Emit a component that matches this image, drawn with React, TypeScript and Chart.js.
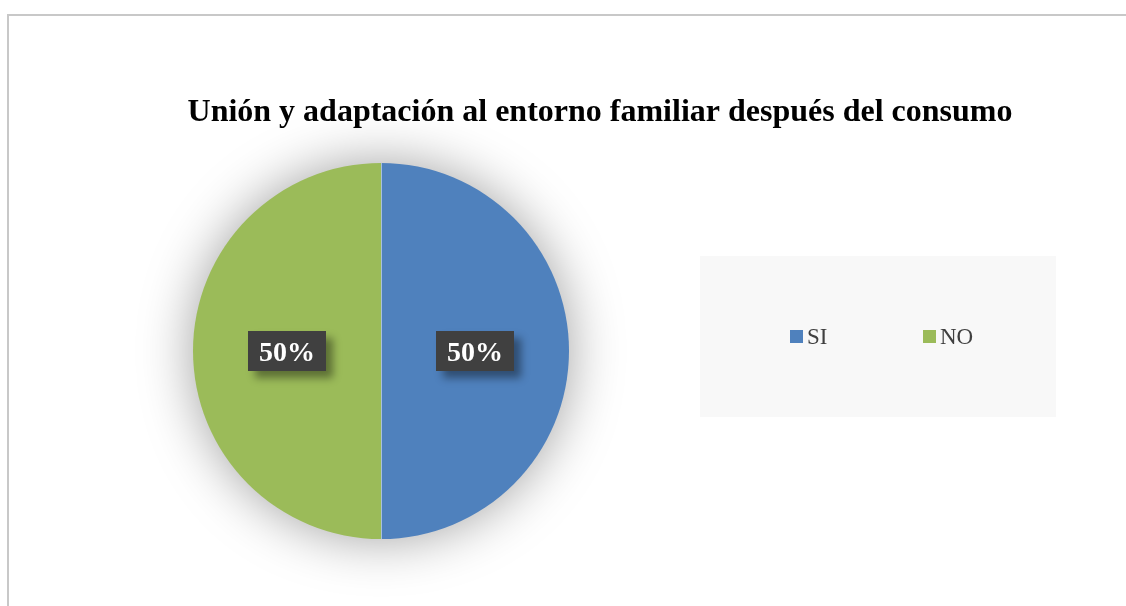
import React, { useEffect, useRef } from "react";
import { Chart, registerables } from "chart.js";

Chart.register(...registerables);

const titleText = "Unión y adaptación al entorno familiar después del consumo";
const categories = ["SI", "NO"];
const values = [50, 50];
const percentLabels = ["50%", "50%"];
const colors = ["#4F81BD", "#9BBB59"];

const W = 1126;
const H = 606;

const decorPlugin = {
  id: "decor",
  beforeDatasetsDraw(chart: any) {
    const ctx = chart.ctx;
    const arc = chart.getDatasetMeta(0).data[0];
    if (!arc) return;
    ctx.save();
    ctx.shadowColor = "rgba(0,0,0,0.4)";
    ctx.shadowBlur = 55;
    ctx.shadowOffsetX = 0;
    ctx.shadowOffsetY = 0;
    ctx.fillStyle = "#ffffff";
    ctx.beginPath();
    ctx.arc(arc.x, arc.y, arc.outerRadius - 2, 0, Math.PI * 2);
    ctx.fill();
    ctx.restore();
  },
  afterDatasetsDraw(chart: any) {
    const ctx = chart.ctx;
    const meta = chart.getDatasetMeta(0);
    const arc0 = meta.data[0];
    ctx.save();
    // faint divider between slices
    if (arc0) {
      ctx.strokeStyle = "rgba(255,255,255,0.5)";
      ctx.lineWidth = 1;
      ctx.beginPath();
      ctx.moveTo(arc0.x + 0.5, arc0.y - arc0.outerRadius);
      ctx.lineTo(arc0.x + 0.5, arc0.y + arc0.outerRadius);
      ctx.stroke();
    }
    ctx.font = "bold 28px 'Liberation Serif', serif";
    ctx.textAlign = "center";
    ctx.textBaseline = "alphabetic";
    meta.data.forEach((el: any, i: number) => {
      const p = el.tooltipPosition();
      const txt = percentLabels[i];
      const tw = ctx.measureText(txt).width;
      const bw = tw + 22;
      const bh = 40;
      const bx = p.x - bw / 2;
      const by = p.y - bh / 2;
      ctx.save();
      ctx.shadowColor = "rgba(0,0,0,0.4)";
      ctx.shadowBlur = 8;
      ctx.shadowOffsetX = 7;
      ctx.shadowOffsetY = 7;
      ctx.fillStyle = "#404040";
      ctx.fillRect(bx, by, bw, bh);
      ctx.restore();
      ctx.fillStyle = "#ffffff";
      ctx.fillText(txt, p.x, by + 30);
    });
    ctx.restore();
  },
  afterDraw(chart: any) {
    const ctx = chart.ctx;
    ctx.save();
    ctx.fillStyle = "#000000";
    ctx.font = "bold 32px 'Liberation Serif', serif";
    ctx.textAlign = "center";
    ctx.textBaseline = "alphabetic";
    ctx.fillText(titleText, 600, 121);
    ctx.fillStyle = "#f8f8f8";
    ctx.fillRect(700, 256, 356, 161);
    const ds = chart.data.datasets[0];
    const xs = [790, 923];
    ctx.font = "23px 'Liberation Serif', serif";
    ctx.textAlign = "left";
    chart.data.labels.forEach((lab: string, i: number) => {
      ctx.fillStyle = ds.backgroundColor[i];
      ctx.fillRect(xs[i], 330, 13, 13);
      ctx.fillStyle = "#404040";
      ctx.fillText(lab, xs[i] + 17, 344);
    });
    ctx.restore();
  },
};

export default function App() {
  const ref = useRef<HTMLCanvasElement>(null);
  useEffect(() => {
    if (!ref.current) return;
    const chart = new Chart(ref.current, {
      type: "pie",
      data: {
        labels: categories,
        datasets: [
          {
            data: values,
            backgroundColor: colors,
            borderWidth: 0,
          },
        ],
      },
      options: {
        animation: false,
        responsive: false,
        maintainAspectRatio: false,
        devicePixelRatio: 1,
        layout: {
          padding: { left: 193, top: 163, right: W - 569, bottom: H - 539 },
        },
        plugins: {
          legend: { display: false },
          title: { display: false },
          tooltip: { enabled: false },
        },
      },
      plugins: [decorPlugin],
    });
    return () => chart.destroy();
  }, []);
  return (
    <div style={{ position: "fixed", left: 0, top: 0, width: W, height: H, background: "#ffffff", overflow: "hidden" }}>
      <div
        style={{
          position: "absolute",
          left: 7,
          top: 14,
          width: W + 20,
          height: H + 20,
          borderLeft: "2px solid #c8c8c8",
          borderTop: "2px solid #c8c8c8",
        }}
      />
      <canvas ref={ref} width={W} height={H} style={{ position: "absolute", left: 0, top: 0, width: W, height: H }} />
    </div>
  );
}
